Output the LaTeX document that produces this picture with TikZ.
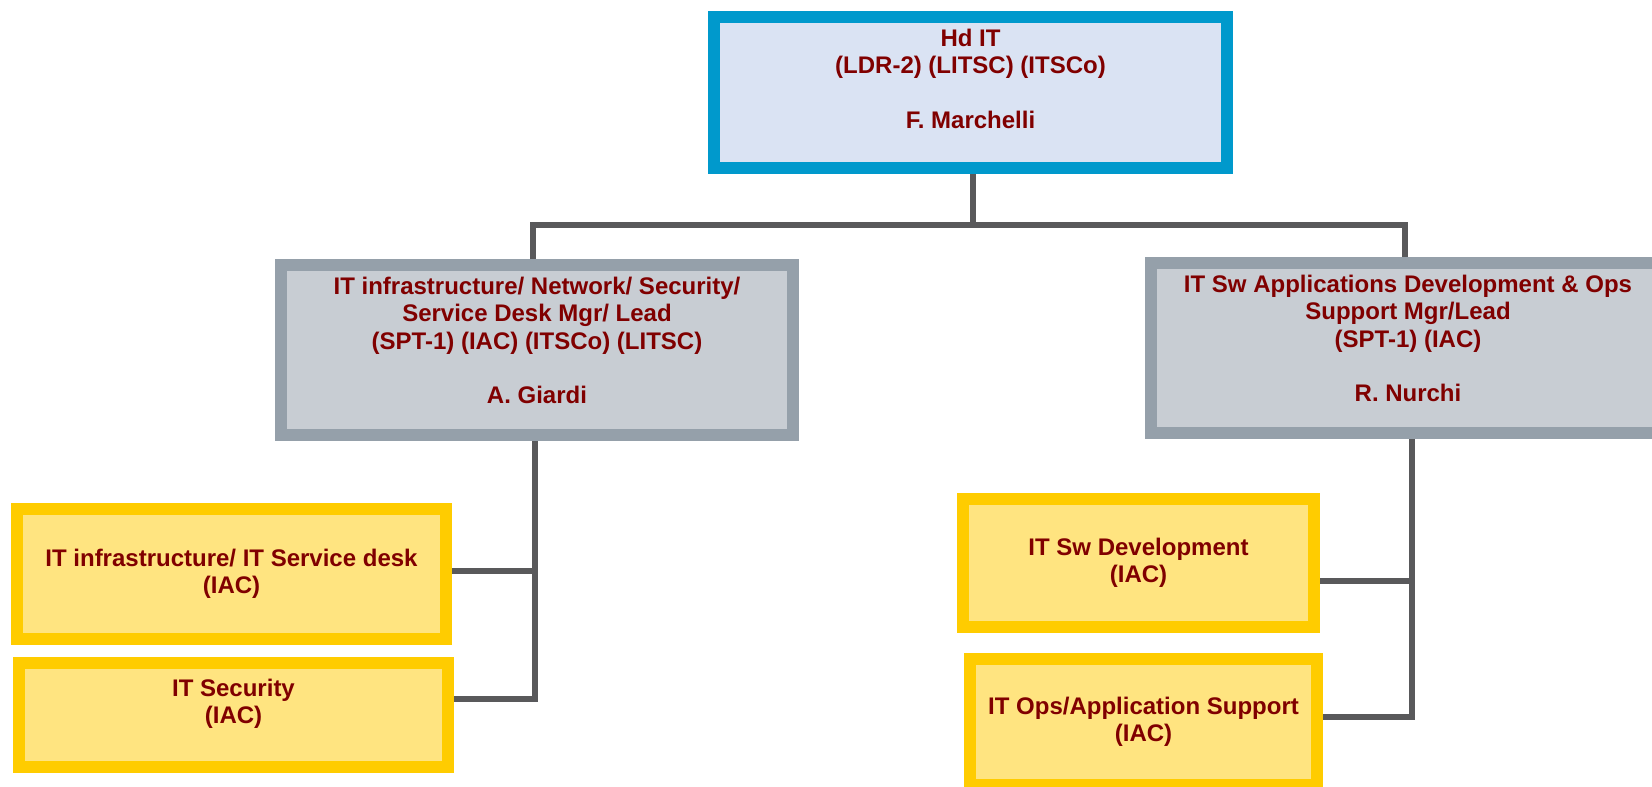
\documentclass[tikz,border=0pt]{standalone}
\usepackage{fontspec}
\setmainfont{Liberation Sans}
\definecolor{headBorder}{RGB}{0,153,204}
\definecolor{headFill}{RGB}{218,227,243}
\definecolor{leadBorder}{RGB}{149,160,170}
\definecolor{leadFill}{RGB}{200,205,211}
\definecolor{teamBorder}{RGB}{255,204,0}
\definecolor{teamFill}{RGB}{255,228,128}
\definecolor{nameColour}{RGB}{128,0,0}
\definecolor{lineColour}{RGB}{89,89,91}
\tikzset{
	unitbox/.style={rectangle, line width=12pt, outer sep=6pt, align=center, text=nameColour, font=\fontsize{24}{27.5}\selectfont\bfseries},
	headbox/.style={unitbox, draw=headBorder, fill=headFill},
	leadbox/.style={unitbox, draw=leadBorder, fill=leadFill},
	teambox/.style={unitbox, draw=teamBorder, fill=teamFill},
	link/.style={draw=lineColour, line width=6pt}
}

\begin{document}
\begin{tikzpicture}[x=1pt, y=-1pt]
		\useasboundingbox (0,0) rectangle (1652,787);
		\clip (0,0) rectangle (1652,787);

		% the head of IT
		\node[headbox, minimum width=513pt, minimum height=151pt] (hd) at (970.5,92.5) {Hd IT\\(LDR-2) (LITSC) (ITSCo)\\[27pt]F. Marchelli\\\mbox{}};

		% the two leads
		\node[leadbox, minimum width=512pt, minimum height=170pt] (infra) at (537,350) {IT infrastructure/ Network/ Security/\\Service Desk Mgr/ Lead\\(SPT-1) (IAC) (ITSCo) (LITSC)\\[27pt]A. Giardi\\[-8pt]\mbox{}};
		\node[leadbox, minimum width=514pt, minimum height=170pt] (apps) at (1408,348) {IT Sw Applications Development \& Ops\\Support Mgr/Lead\\(SPT-1) (IAC)\\[27pt]R. Nurchi\\[-8pt]\mbox{}};

		% the teams
		\node[teambox, minimum width=429pt, minimum height=130pt] (desk) at (231.5,574) {IT infrastructure/ IT Service desk\\(IAC)};
		\node[teambox, minimum width=429pt, minimum height=104pt] (sec) at (233.5,715) {IT Security\\(IAC)\\\mbox{}};
		\node[teambox, minimum width=351pt, minimum height=128pt] (dev) at (1138.5,563) {IT Sw Development\\(IAC)};
		\node[teambox, minimum width=347pt, minimum height=126pt] (ops) at (1143.5,722) {IT Ops/Application Support\\(IAC)};

		% the connectors
		\coordinate (busL) at (533,225);
		\coordinate (busR) at (1405,225);
		\coordinate (lspine) at ([xshift=-2pt]infra.south);
		\coordinate (rspine) at ([xshift=4pt]apps.south);
		\draw[link] ([xshift=2.5pt]hd.south) -- ([xshift=2.5pt]hd.south |- busL);
		\draw[link] (busL |- infra.north) -- (busL) -- (busR) -- (busR |- apps.north);
		\draw[link] (lspine) |- ([yshift=16pt]sec.east);
		\draw[link] ([yshift=3pt]desk.east) -- ([yshift=3pt]desk.east -| lspine);
		\draw[link] (rspine) |- ([yshift=5pt]ops.east);
		\draw[link] ([yshift=-18pt]dev.east) -- ([yshift=-18pt]dev.east -| rspine);
	\end{tikzpicture}
\end{document}
